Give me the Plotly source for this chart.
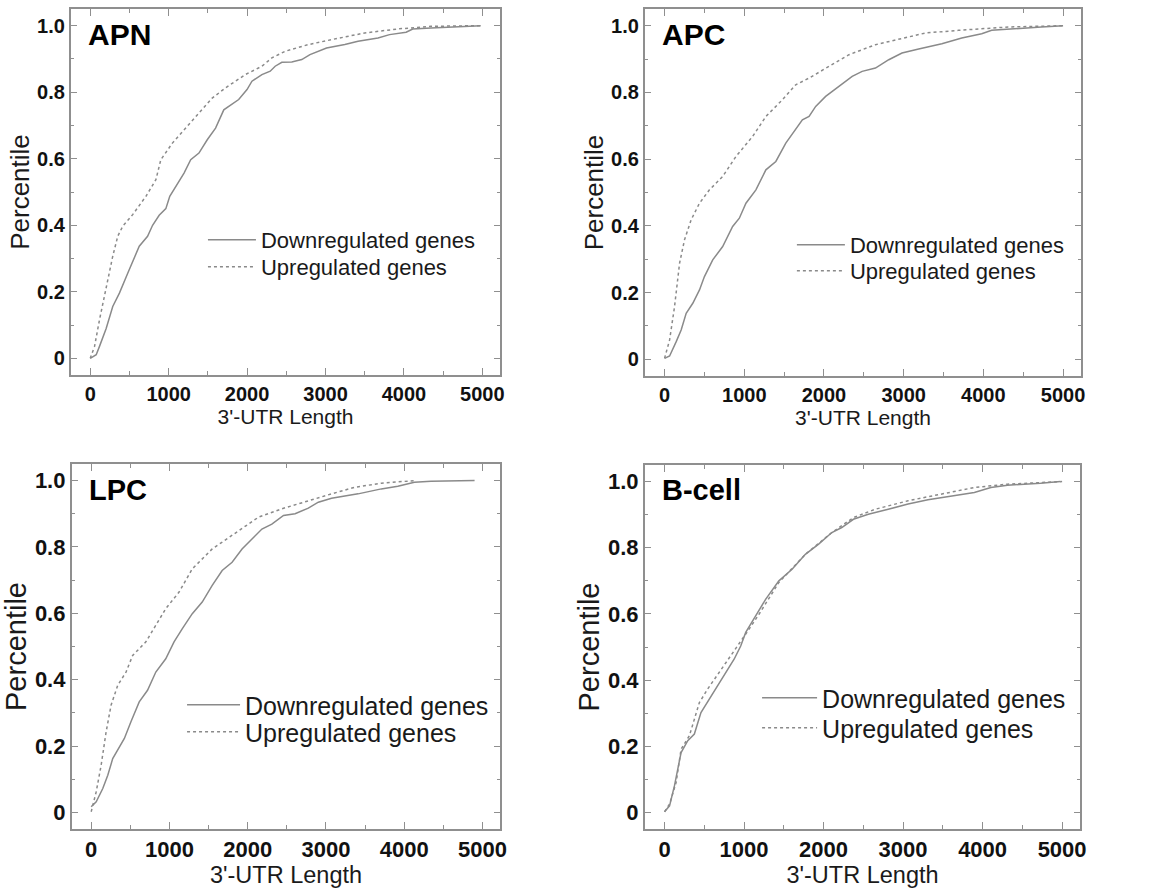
import plotly.graph_objects as go

# ---------------- data ----------------
panel_names = ["APN", "APC", "LPC", "B-cell"]
series_names = ["Downregulated genes", "Upregulated genes"]

apn_down_x = [0, 76, 118, 203, 287, 372, 478, 541, 625, 731, 795, 879, 964, 1014, 1090, 1196, 1281, 1386, 1492,
              1598, 1703, 1767, 1893, 1999, 2062, 2189, 2295, 2358, 2443, 2570, 2697, 2802, 2908, 3013, 3246,
              3415, 3669, 3817, 4028, 4112, 4345, 4768, 4979]
apn_down_y = [0.0, 0.011, 0.036, 0.09, 0.156, 0.196, 0.256, 0.29, 0.337, 0.367, 0.40, 0.43, 0.45, 0.487, 0.517,
              0.557, 0.597, 0.617, 0.657, 0.692, 0.747, 0.757, 0.778, 0.808, 0.833, 0.853, 0.863, 0.878, 0.89,
              0.891, 0.898, 0.913, 0.923, 0.933, 0.943, 0.953, 0.963, 0.973, 0.98, 0.99, 0.993, 0.998, 1.0]
apn_up_x = [0, 55, 118, 203, 287, 351, 414, 541, 710, 837, 900, 1048, 1217, 1386, 1555, 1724, 1978, 2189, 2316,
            2485, 2781, 3077, 3500, 3922, 4345, 4979]
apn_up_y = [0.0, 0.036, 0.116, 0.216, 0.307, 0.367, 0.397, 0.432, 0.487, 0.537, 0.597, 0.647, 0.692, 0.737,
            0.782, 0.813, 0.853, 0.878, 0.903, 0.923, 0.943, 0.958, 0.978, 0.99, 0.998, 1.0]

apc_down_x = [0, 63, 146, 208, 271, 354, 438, 500, 604, 729, 854, 938, 1021, 1146, 1271, 1396, 1521, 1646, 1729,
              1813, 1896, 2021, 2188, 2354, 2479, 2646, 2813, 2979, 3188, 3479, 3729, 3979, 4104, 4313, 4729, 5000]
apc_down_y = [0.003, 0.01, 0.053, 0.088, 0.138, 0.168, 0.208, 0.248, 0.298, 0.338, 0.398, 0.423, 0.468, 0.508,
              0.568, 0.593, 0.648, 0.688, 0.718, 0.728, 0.758, 0.788, 0.818, 0.848, 0.863, 0.873, 0.898, 0.918,
              0.93, 0.946, 0.963, 0.976, 0.986, 0.99, 0.996, 1.0]
apc_up_x = [0, 63, 125, 188, 250, 333, 438, 563, 729, 896, 1104, 1271, 1479, 1646, 1813, 2021, 2313, 2646, 2938,
            3271, 3688, 4313, 5000]
apc_up_y = [0.003, 0.058, 0.158, 0.288, 0.358, 0.418, 0.468, 0.508, 0.548, 0.608, 0.668, 0.728, 0.778, 0.823,
            0.843, 0.873, 0.913, 0.943, 0.96, 0.978, 0.986, 0.996, 1.0]

lpc_down_x = [0, 64, 148, 212, 275, 339, 424, 508, 614, 720, 826, 953, 1059, 1165, 1292, 1419, 1547, 1674, 1801,
              1928, 2055, 2182, 2309, 2458, 2606, 2775, 2903, 3072, 3411, 3708, 3919, 4131, 4343, 4900]
lpc_down_y = [0.017, 0.032, 0.072, 0.112, 0.162, 0.188, 0.223, 0.273, 0.333, 0.368, 0.423, 0.463, 0.514, 0.554,
              0.599, 0.634, 0.684, 0.729, 0.754, 0.794, 0.824, 0.854, 0.869, 0.895, 0.90, 0.917, 0.935, 0.947,
              0.96, 0.975, 0.983, 0.995, 0.998, 1.0]
lpc_up_x = [0, 64, 127, 191, 254, 339, 445, 530, 699, 826, 953, 1123, 1292, 1547, 1801, 2140, 2436, 2775, 3072,
            3369, 3708, 4131]
lpc_up_y = [0.002, 0.062, 0.142, 0.243, 0.323, 0.383, 0.423, 0.473, 0.514, 0.564, 0.614, 0.664, 0.734, 0.794,
            0.834, 0.89, 0.915, 0.94, 0.96, 0.98, 0.992, 1.0]

bcell_down_x = [0, 63, 125, 208, 292, 375, 458, 563, 646, 771, 875, 958, 1021, 1146, 1271, 1438, 1604, 1771, 1938,
                2104, 2229, 2375, 2563, 2813, 3063, 3313, 3604, 3896, 4104, 4313, 4729, 4979]
bcell_down_y = [0.002, 0.02, 0.081, 0.181, 0.217, 0.237, 0.302, 0.342, 0.373, 0.423, 0.463, 0.503, 0.544, 0.594,
                0.644, 0.70, 0.735, 0.78, 0.811, 0.846, 0.861, 0.886, 0.901, 0.916, 0.932, 0.945, 0.957, 0.967,
                0.982, 0.989, 0.995, 1.0]
bcell_up_x = [0, 63, 146, 208, 313, 438, 542, 688, 854, 1021, 1188, 1438, 1771, 2104, 2375, 2646, 3063, 3479, 3896,
              4313, 5000]
bcell_up_y = [0.002, 0.025, 0.091, 0.191, 0.232, 0.332, 0.373, 0.423, 0.483, 0.539, 0.599, 0.695, 0.78, 0.846,
              0.891, 0.916, 0.942, 0.962, 0.982, 0.992, 1.0]

x_tickvals = [0, 1000, 2000, 3000, 4000, 5000]
x_ticktext = ["0", "1000", "2000", "3000", "4000", "5000"]
y_tickvals = [0, 0.2, 0.4, 0.6, 0.8, 1.0]
y_ticktext = ["0", "0.2", "0.4", "0.6", "0.8", "1.0"]

x_title = "3'-UTR Length"
y_title = "Percentile"

# ---------------- layout / style ----------------
W, H = 1163, 893
FONT = "Liberation Sans, Arial, sans-serif"
FRAME = "#8f8f8f"
LINE_COL = "#8a8a8a"

# legend positions: (x_left, top_down, top_up) in pixels
panels = [
    dict(name=panel_names[0], down=(apn_down_x, apn_down_y), up=(apn_up_x, apn_up_y),
         px=(71, 503), py=(9, 375), tick=20, xt=21, yt=26, leg=22, lab=30, iw=48,
         legpos=(204, 219, 246)),
    dict(name=panel_names[1], down=(apc_down_x, apc_down_y), up=(apc_up_x, apc_up_y),
         px=(648, 1087), py=(9, 376), tick=20, xt=21, yt=26, leg=22, lab=30, iw=48,
         legpos=(796, 224, 250)),
    dict(name=panel_names[2], down=(lpc_down_x, lpc_down_y), up=(lpc_up_x, lpc_up_y),
         px=(72, 503), py=(464, 829), tick=22, xt=23.5, yt=29, leg=25, lab=29, iw=53,
         legpos=(183, 682, 709)),
    dict(name=panel_names[3], down=(bcell_down_x, bcell_down_y), up=(bcell_up_x, bcell_up_y),
         px=(648, 1086), py=(465, 829), tick=22, xt=23.5, yt=29, leg=25, lab=29, iw=55,
         legpos=(761, 675, 705)),
]

fig = go.Figure()
layout = dict(
    width=W, height=H,
    margin=dict(l=0, r=0, t=0, b=0),
    paper_bgcolor="white", plot_bgcolor="white",
    font=dict(family=FONT, color="#111"),
    annotations=[],
)

leg_idx = 0
for i, p in enumerate(panels, start=1):
    sfx = "" if i == 1 else str(i)
    xa, ya = "x" + sfx, "y" + sfx
    lx, ly_down, ly_up = p["legpos"]
    for (xs, ys), nm, dash, ly in ((p["down"], series_names[0], "solid", ly_down),
                                   (p["up"], series_names[1], "3px,3px", ly_up)):
        leg_idx += 1
        leg = "legend" if leg_idx == 1 else "legend" + str(leg_idx)
        fig.add_trace(go.Scatter(
            x=xs, y=ys, mode="lines", name=nm,
            line=dict(color=LINE_COL, width=1.5, dash=dash),
            xaxis=xa, yaxis=ya, legend=leg, showlegend=True,
        ))
        layout[leg] = dict(
            x=lx / W, y=1 - ly / H, xref="paper", yref="paper",
            xanchor="left", yanchor="top", bgcolor="rgba(0,0,0,0)",
            font=dict(family=FONT, size=p["leg"], color="#1a1a1a"),
            itemwidth=p["iw"],
        )
    x0, x1 = p["px"]
    yt, yb = p["py"]
    common = dict(
        showline=True, linecolor=FRAME, linewidth=1.5, mirror="ticks",
        ticks="inside", ticklen=7, tickwidth=1.2, tickcolor=FRAME,
        showgrid=False, zeroline=False,
        tickfont=dict(family=FONT, size=p["tick"], color="#111", weight="bold"),
    )
    layout["xaxis" + sfx] = dict(
        domain=[x0 / W, x1 / W], anchor=ya, range=[-250, 5230],
        tickvals=x_tickvals, ticktext=x_ticktext,
        minor=dict(dtick=500, ticks="inside", ticklen=4, tickcolor=FRAME, tickwidth=1.2),
        title=dict(text=x_title, standoff=0, font=dict(family=FONT, size=p["xt"], color="#1a1a1a")),
        **common,
    )
    layout["yaxis" + sfx] = dict(
        domain=[1 - yb / H, 1 - yt / H], anchor=xa, range=[-0.05, 1.05],
        tickvals=y_tickvals, ticktext=y_ticktext,
        minor=dict(dtick=0.1, ticks="inside", ticklen=4, tickcolor=FRAME, tickwidth=1.2),
        title=dict(text=y_title, standoff=0, font=dict(family=FONT, size=p["yt"], color="#1a1a1a")),
        **common,
    )
    layout["annotations"].append(dict(
        text="<b>" + p["name"] + "</b>", xref=xa + " domain", yref=ya + " domain",
        x=0.035, y=0.93, xanchor="left", yanchor="middle", showarrow=False,
        font=dict(family=FONT, size=p["lab"], color="#000"),
    ))

fig.update_layout(**layout)
fig.write_html("out.html")
